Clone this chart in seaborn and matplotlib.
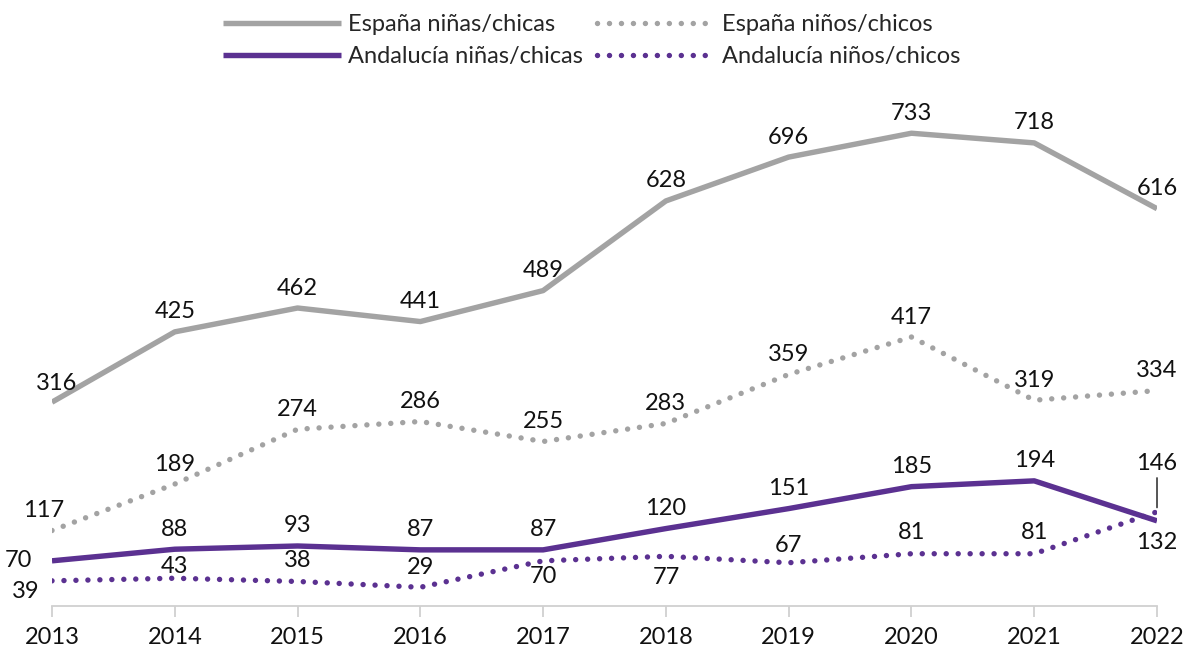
import matplotlib
matplotlib.use("Agg")
import matplotlib.pyplot as plt
import seaborn as sns
import pandas as pd

years = [2013, 2014, 2015, 2016, 2017, 2018, 2019, 2020, 2021, 2022]
espana_ninas = [316, 425, 462, 441, 489, 628, 696, 733, 718, 616]
espana_ninos = [117, 189, 274, 286, 255, 283, 359, 417, 319, 334]
andalucia_ninas = [70, 88, 93, 87, 87, 120, 151, 185, 194, 132]
andalucia_ninos = [39, 43, 38, 29, 70, 77, 67, 81, 81, 146]

series_names = ["España niñas/chicas", "España niños/chicos",
                "Andalucía niñas/chicas", "Andalucía niños/chicos"]

sns.set_theme(style="white")
plt.rcParams['font.family'] = ['Lato', 'DejaVu Sans']

GRAY = "#A3A3A3"
PURPLE = "#5B3191"
FS = 17

fig = plt.figure(figsize=(11.84, 6.49), dpi=100)
ax = fig.add_axes([0.0439, 0.0663, 0.9333, 0.795])

# label offsets in pixels (dx, dy) per point
off_en = [(5, 19)] + [(0, 20)] * 9
off_eo = [(-8, 20)] + [(0, 20)] * 9
off_an = [(-34, 0)] + [(0, 20)] * 8 + [(0, -22)]
off_ao = [(-26, -11), (0, 12), (0, 21), (0, 20), (0, -16), (0, -21),
          (0, 17), (0, 21), (0, 21), (0, 48)]

specs = [
    (series_names[0], espana_ninas, GRAY, "-", off_en),
    (series_names[1], espana_ninos, GRAY, (0, (0.01, 2.2)), off_eo),
    (series_names[2], andalucia_ninas, PURPLE, "-", off_an),
    (series_names[3], andalucia_ninos, PURPLE, (0, (0.01, 2.2)), off_ao),
]

for name, vals, col, ls, offs in specs:
    df = pd.DataFrame({"year": years, "value": vals})
    sns.lineplot(data=df, x="year", y="value", ax=ax, color=col,
                 linewidth=3.9, label=name, linestyle=ls,
                 solid_capstyle="butt", dash_capstyle="round")
    for x, v, (dx, dy) in zip(years, vals, offs):
        ax.annotate(str(v), (x, v), xytext=(dx, dy), textcoords="offset pixels",
                    ha="center", va="center", fontsize=FS, color="#111111")

# leader line for the last Andalucía niños value
ax.annotate("", (years[-1], andalucia_ninos[-1]), xytext=(0, 34),
            textcoords="offset pixels",
            arrowprops=dict(arrowstyle="-", color="#111111", lw=1,
                            shrinkA=0, shrinkB=3))

ax.set_xlim(years[0], years[-1])
ax.set_ylim(0, 800)
ax.set_xticks(years)
ax.set_xticklabels([str(y) for y in years], fontsize=FS, color="#111111")
ax.set_yticks([])
ax.set_xlabel("")
ax.set_ylabel("")
for s in ["top", "right", "left"]:
    ax.spines[s].set_visible(False)
ax.spines["bottom"].set_color("#D0D0D0")
ax.spines["bottom"].set_linewidth(1.3)
ax.tick_params(axis="x", direction="out", length=8, width=1.3,
               color="#D0D0D0", pad=7, bottom=True)

handles, labels = ax.get_legend_handles_labels()
order = [0, 2, 1, 3]
leg = fig.legend([handles[i] for i in order], [labels[i] for i in order],
                 ncol=2, loc="upper center", bbox_to_anchor=(0.5, 1.0),
                 frameon=False, fontsize=FS, handlelength=5.0,
                 handletextpad=0.3, columnspacing=0.6, labelspacing=0.45,
                 borderaxespad=0.2)
if ax.get_legend():
    ax.get_legend().remove()

fig.savefig("out.png", dpi=100)
